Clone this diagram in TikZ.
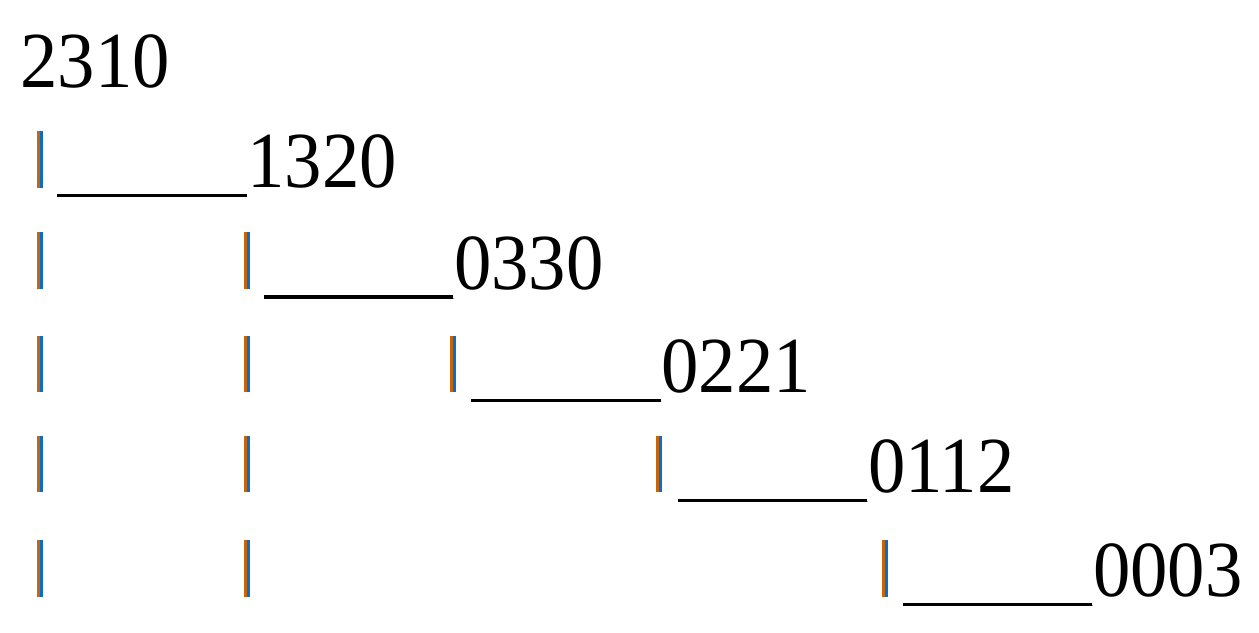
\documentclass[tikz,border=0pt]{standalone}
\usepackage{fontspec}
\setmainfont{Liberation Serif}[FakeStretch=0.94]
\definecolor{barorange}{RGB}{200,100,10}
\definecolor{barblue}{RGB}{10,110,200}
\tikzset{
  num/.style={anchor=base west, inner sep=0pt, font=\fontsize{22.6}{27}\selectfont},
  rule/.style={line width=0.035cm, black},
  barl/.style={line width=0.03cm, barorange},
  barr/.style={line width=0.03cm, barblue}
}
% one text-art bar: column x, row node
\newcommand\treebar[2]{%
  \draw[barl] (#1-1.5,0 |- #2.base) -- ++(0,-56.7);
  \draw[barr] (#1+1.5,0 |- #2.base) -- ++(0,-56.7);}

\begin{document}
\begin{tikzpicture}[x=0.01cm, y=-0.01cm]
  \useasboundingbox (0,0) rectangle (1259,633);
  % numbers
  \node[num] (n2310) at (19.7,87.7) {2310};
  \node[num] (n1320) at (246.7,187.7) {1320};
  \node[num] (n0330) at (453.3,289) {0330};
  \node[num] (n0221) at (660.7,392.3) {0221};
  \node[num] (n0112) at (867.3,492.3) {0112};
  \node[num] (n0003) at (1092.5,596.7) {0003};
  % bars
  \foreach \col/\row in {40.2/n1320, 40.2/n0330, 246.7/n0330,
      40.2/n0221, 246.7/n0221, 453/n0221,
      40.2/n0112, 246.7/n0112, 659.4/n0112,
      40.2/n0003, 246.7/n0003, 885/n0003}
    \treebar{\col}{\row}
  % underscores
  \foreach \row in {n1320,n0330,n0221,n0112,n0003}
    \draw[rule] ([yshift=-0.08cm]\row.base west) -- ++(-189.5,0);
\end{tikzpicture}
\end{document}
